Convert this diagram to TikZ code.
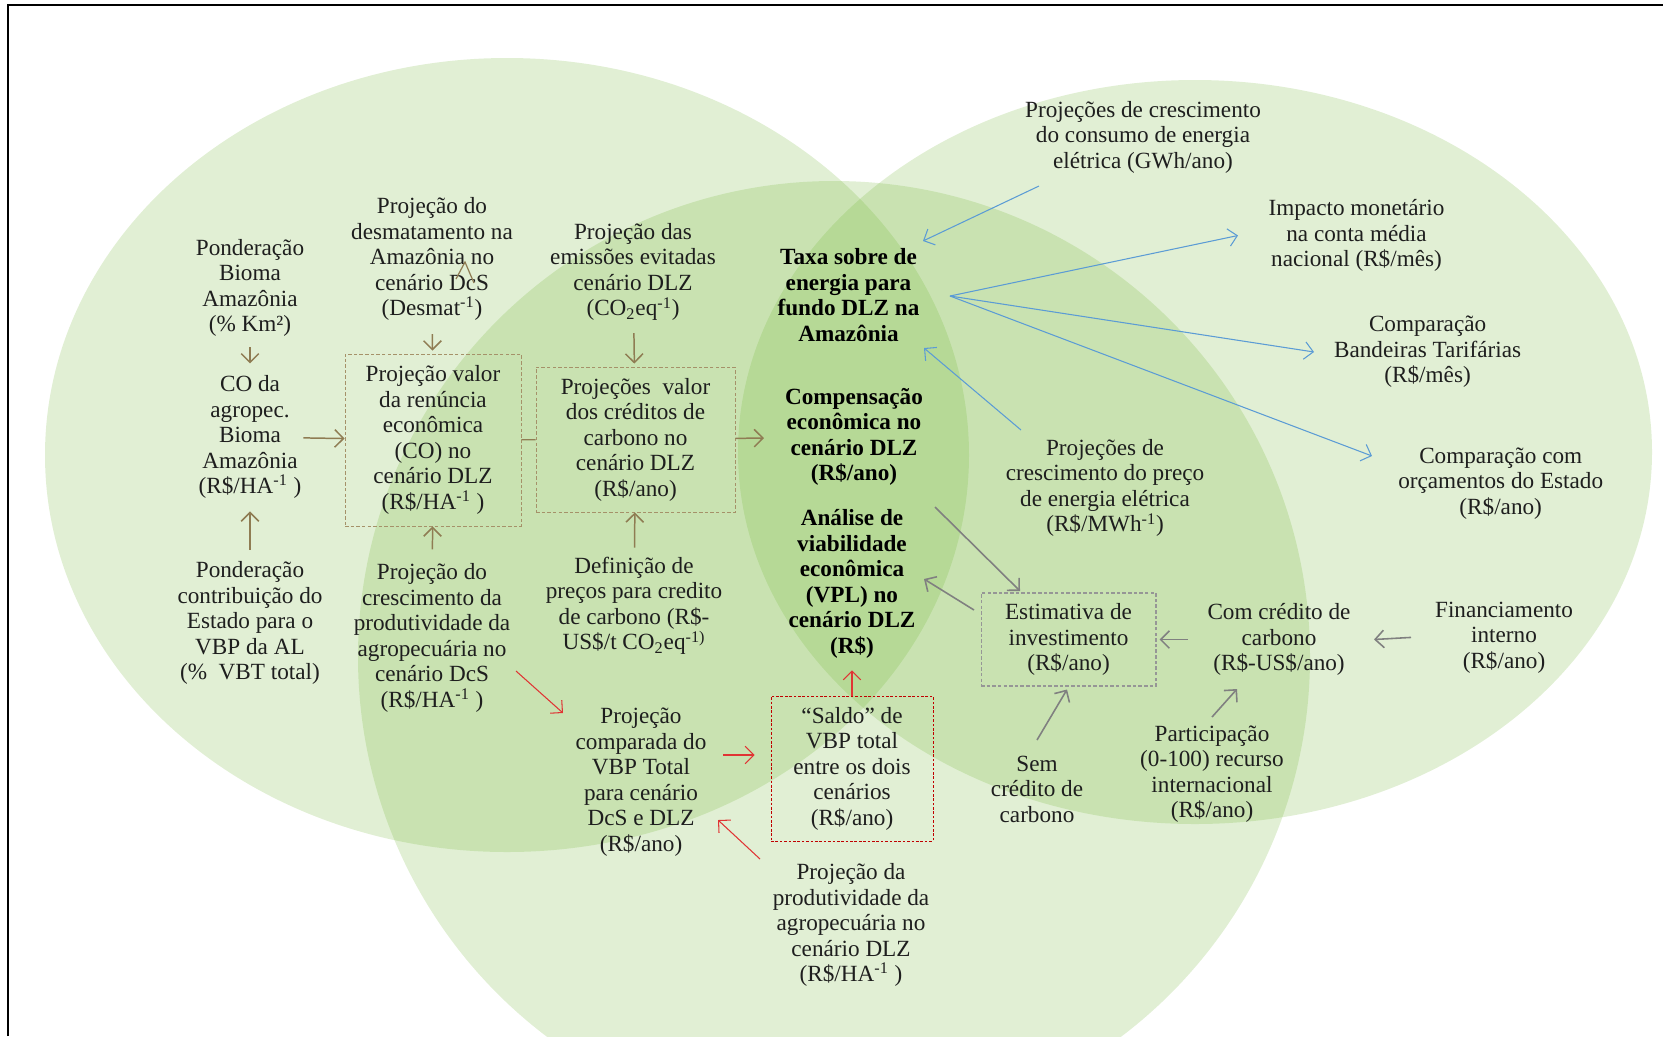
\documentclass[tikz,border=0pt]{standalone}
\usepackage{fontspec}
\setmainfont{Liberation Serif}
\usepackage{tikz}
\usetikzlibrary{arrows.meta,calc}

\definecolor{vennGreen}{RGB}{112,180,50}
\definecolor{arrowBrown}{RGB}{143,124,83}
\definecolor{boxBrown}{RGB}{165,145,105}
\definecolor{arrowRed}{RGB}{224,52,52}
\definecolor{boxRed}{RGB}{192,0,0}
\definecolor{arrowBlue}{RGB}{91,155,213}
\definecolor{arrowGray}{RGB}{128,128,128}
\definecolor{boxGray}{RGB}{150,150,150}
\definecolor{textDark}{RGB}{30,30,30}

\begin{document}
\begin{tikzpicture}
	[x=0.02cm,y=-0.02cm,>={Straight Barb[length=5pt,width=10pt]},
		venn/.style={fill=vennGreen,fill opacity=0.21},
		txt/.style={align=center,inner sep=1pt,text=textDark,font=\fontsize{13.2}{14.5}\selectfont},
		bold txt/.style={txt,text=black,font=\fontsize{13.2}{14.5}\selectfont\bfseries},
		dashbox/.style={txt,draw=boxBrown,dash pattern=on 2pt off 1.2pt,line width=0.5pt},
		redbox/.style={txt,draw=boxRed,dash pattern=on 1.5pt off 1pt,line width=0.5pt},
		graybox/.style={txt,draw=boxGray,dash pattern=on 2pt off 1.2pt,line width=0.6pt},
		brarrow/.style={->,draw=arrowBrown,line width=0.85pt},
		brline/.style={draw=arrowBrown,line width=0.7pt},
		redarrow/.style={->,draw=arrowRed,line width=0.6pt},
		bluearrow/.style={->,draw=arrowBlue,line width=0.6pt},
		grayarrow/.style={->,draw=arrowGray,line width=0.9pt}]

	\useasboundingbox (0,0) rectangle (1663,1036);
	\clip (0,0) rectangle (1663,1036);

	% the three sets
	\fill[venn] (507,455) ellipse [x radius=462, y radius=397];
	\fill[venn] (1195,452) ellipse [x radius=457, y radius=372];
	\fill[venn] (834,657) circle [radius=476];

	\draw[line width=1.1pt] (8,1036) -- (8,5) -- (1663,5);

	% left part
	\node[txt] (pondBioma) at (250,288) {Ponderação\\Bioma\\Amazônia\\(\% Km²)};
	\node[txt] (coAgro) at (250,437) {CO da\\agropec.\\Bioma\\Amazônia\\(R\$/HA\textsuperscript{-1} )};
	\node[txt] (pondEstado) at (250,623) {Ponderação\\contribuição do\\Estado para o\\VBP da AL\\(\%\ \ VBT total)};
	\node[txt] (desmat) at (432,259) {Projeção do\\desmatamento na\\Amazônia no\\cenário DcS\\(Desmat\textsuperscript{-1})};
	\node[dashbox,minimum width=3.52cm,minimum height=3.44cm] (boxRen) at (433,440) {Projeção valor\\da renúncia\\econômica\\(CO) no\\cenário DLZ\\(R\$/HA\textsuperscript{-1} )};
	\node[txt] (prodDcS) at (432,638) {Projeção do\\crescimento da\\produtividade da\\agropecuária no\\cenário DcS\\(R\$/HA\textsuperscript{-1} )};
	\node[txt] (emiss) at (633,272) {Projeção das\\emissões evitadas\\cenário DLZ\\(CO\textsubscript{2}eq\textsuperscript{-1})};
	\node[dashbox,minimum width=3.98cm,minimum height=2.9cm] (boxCred) at (635.5,439.5) {Projeções\ \ valor\\dos créditos de\\carbono no\\cenário DLZ\\(R\$/ano)};
	\node[txt] (definicao) at (634,606) {Definição de\\preços para credito\\de carbono (R\$-\\US\$/t CO\textsubscript{2}eq\textsuperscript{-1)}};
	\node[txt] (comparada) at (641,782) {Projeção\\comparada do\\VBP Total\\para cenário\\DcS e DLZ\\(R\$/ano)};

	% centre
	\node[bold txt] (taxa) at (848.5,295) {Taxa sobre de\\energia para\\fundo DLZ na\\Amazônia};
	\node[bold txt] (compens) at (854,437) {Compensação\\econômica no\\cenário DLZ\\(R\$/ano)};
	\node[bold txt] (analise) at (852,584) {Análise de\\viabilidade\\econômica\\(VPL) no\\cenário DLZ\\(R\$)};
	\node[redbox,minimum width=3.24cm,minimum height=2.9cm] (boxSaldo) at (852,768.5) {“Saldo” de\\VBP total\\entre os dois\\cenários\\(R\$/ano)};
	\node[txt] (prodDLZ) at (851,925) {Projeção da\\produtividade da\\agropecuária no\\cenário DLZ\\(R\$/HA\textsuperscript{-1} )};

	% right part
	\node[txt] (consumo) at (1143,137) {Projeções de crescimento\\do consumo de energia\\elétrica (GWh/ano)};
	\node[txt] (impacto) at (1356.5,235.5) {Impacto monetário\\na conta média\\nacional (R\$/mês)};
	\node[txt] (bandeiras) at (1427.6,352) {Comparação\\Bandeiras Tarifárias\\(R\$/mês)};
	\node[txt] (orcamentos) at (1500.7,483.6) {Comparação com\\orçamentos do Estado\\(R\$/ano)};
	\node[txt] (preco) at (1105,488) {Projeções de\\crescimento do preço\\de energia elétrica\\(R\$/MWh\textsuperscript{-1})};
	\node[graybox,minimum width=3.5cm,minimum height=1.86cm] (boxEstim) at (1068.5,639.5) {Estimativa de\\investimento\\(R\$/ano)};
	\node[txt] (comCred) at (1279,639.5) {Com crédito de\\carbono\\(R\$-US\$/ano)};
	\node[txt] (financ) at (1504,637.4) {Financiamento\\interno\\(R\$/ano)};
	\node[txt] (semCred) at (1037,789) {Sem\\crédito de\\carbono};
	\node[txt] (particip) at (1212,774) {Participação\\(0-100) recurso\\internacional\\(R\$/ano)};

	% brown flow
	\draw[brarrow,shorten <=4.8pt,shorten >=5.7pt] (pondBioma) -- (coAgro);
	\draw[brarrow] (coAgro) -- (boxRen);
	\draw[brarrow,shorten <=5.4pt,shorten >=6.2pt] (pondEstado) -- (coAgro);
	\draw[brarrow,shorten <=6.6pt,shorten >=1.7pt] (desmat) -- (boxRen);
	\draw[brarrow,shorten <=7pt] (prodDcS) -- (boxRen);
	\draw[brline] (boxRen) -- (boxCred);
	\draw[brarrow,shorten <=5.9pt,shorten >=1.7pt] (emiss) -- (boxCred);
	\draw[brarrow,shorten <=4.3pt] (definicao) -- (boxCred);
	\draw[brarrow,shorten >=10.8pt] (boxCred) -- (compens);
	\draw[brline] ($(desmat)+(24,20)$) -- ($(desmat)+(33,3)$) -- ($(desmat)+(42,24)$);

	% red flow
	\draw[redarrow] ($(prodDcS)+(84,33)$) -- ($(comparada)+(-78,-69)$);
	\draw[redarrow] ($(comparada)+(82,-27)$) -- ($(boxSaldo.west)+(-16,-13.5)$);
	\draw[redarrow] ($(prodDLZ)+(-91,-66)$) -- ($(comparada)+(77,38)$);
	\draw[redarrow] (boxSaldo.north) -- ($(analise.south)+(0,10)$);

	% blue flow
	\coordinate (fan) at ($(taxa)+(101.5,1)$);
	\draw[bluearrow] ($(consumo)+(-104,49)$) -- ($(taxa)+(74.5,-54)$);
	\draw[bluearrow] (fan) -- ($(impacto)+(-118.5,0)$);
	\draw[bluearrow] (fan) -- ($(bandeiras)+(-113.6,0)$);
	\draw[bluearrow] (fan) -- ($(orcamentos)+(-128.7,-27.6)$);
	\draw[bluearrow] ($(preco)+(-84,-58)$) -- ($(taxa)+(75.5,53)$);

	% gray flow
	\draw[grayarrow] ($(compens)+(81,70)$) -- ($(boxEstim)+(-48.5,-48.5)$);
	\draw[grayarrow] ($(boxEstim)+(-94.5,-29.5)$) -- ($(analise)+(72,-5)$);
	\draw[grayarrow] ($(comCred)+(-91,0)$) -- ($(boxEstim.east)+(3,0)$);
	\draw[grayarrow] ($(financ)+(-93,0)$) -- ($(comCred)+(95,0)$);
	\draw[grayarrow] ($(semCred)+(0,-49)$) -- ($(boxEstim.south)+(-1.5,3)$);
	\draw[grayarrow] ($(particip)+(0,-57)$) -- ($(comCred)+(-42,49.5)$);

\end{tikzpicture}
\end{document}
